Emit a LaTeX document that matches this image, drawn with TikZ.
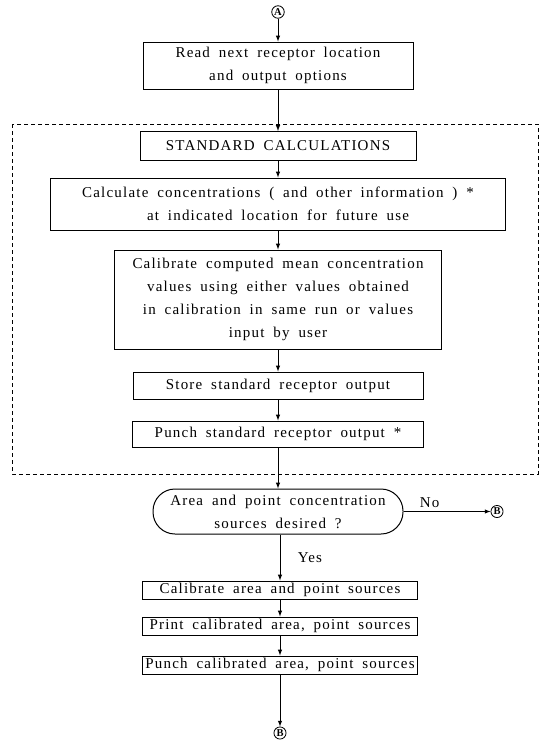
\documentclass[tikz,border=0pt]{standalone}
\usepackage{fontspec}
\setmainfont{Liberation Serif}[LetterSpace=8,WordSpace=1.8]
\usepackage{tikz}

\begin{document}
\begin{tikzpicture}[-,>=latex,x=1pt,y=-1pt,line width=1pt,
	box/.style={rectangle,draw,inner sep=0pt,align=center},
	conn/.style={circle,draw,line width=0.8pt,inner sep=0.8pt,font=\fontsize{10.5}{10.5}\selectfont\bfseries}]
	\tikzstyle{every node}=[font=\fontsize{15}{23}\selectfont]
	\useasboundingbox (0,0) rectangle (546,747);
	\draw
		(278,12) node[conn](A) {A}
		(278,65.5) node[box,minimum width=270,minimum height=47](read) {Read next receptor location\\and output options}
		(278,146) node[box,minimum width=276,minimum height=29](std) {STANDARD CALCULATIONS}
		(278,204) node[box,minimum width=455,minimum height=52](calc) {Calculate concentrations ( and other information ) *\\at indicated location for future use}
		(278,299.5) node[box,minimum width=327,minimum height=99](calib) {Calibrate computed mean concentration\\values using either values obtained\\in calibration in same run or values\\input by user}
		(278,385.5) node[box,minimum width=290,minimum height=27](store) {Store standard receptor output}
		(278,434) node[box,minimum width=291,minimum height=26](punch) {Punch standard receptor output *}
		(278,511.5) node[box,rounded corners=22,minimum width=250,minimum height=45](dec) {Area and point concentration\\sources desired ?}
		(497,511.5) node[conn](b1) {B}
		(280,590) node[box,minimum width=275,minimum height=18](calarea) {Calibrate area and point sources}
		(280,626) node[box,minimum width=275,minimum height=18](prnt) {Print calibrated area, point sources}
		(280,665) node[box,minimum width=275,minimum height=18](pcal) {Punch calibrated area, point sources}
		(280,733) node[conn](b2) {B};
	% standard calculations group
	\draw[dashed,line width=0.7pt,dash pattern=on 4pt off 3pt] (12,124) rectangle (538,474);
	\draw[->] (A) to (read);
	\draw[->] (read) to (std);
	\draw[->] (std) to (calc);
	\draw[->] (calc) to (calib);
	\draw[->] (calib) to (store);
	\draw[->] (store) to (punch);
	\draw[->] (punch) to (dec);
	\draw[->] (dec) to node[pos=0.3,above] {No} (b1);
	\draw[->] (dec.south -| calarea) to node[midway,right=14pt] {Yes} (calarea);
	\draw[->] (calarea) to (prnt);
	\draw[->] (prnt) to (pcal);
	\draw[->] (pcal) to (b2);
\end{tikzpicture}
\end{document}
